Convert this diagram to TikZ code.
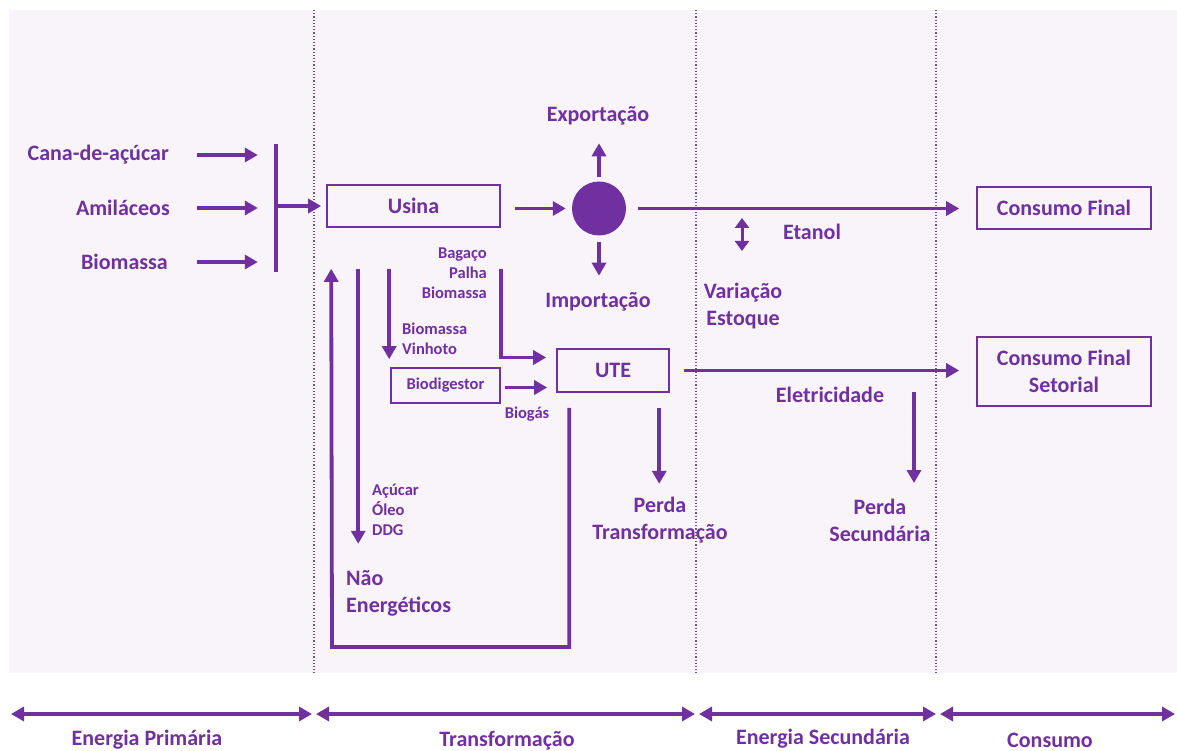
\documentclass[tikz,border=0pt]{standalone}
\usepackage{fontspec}
\setmainfont{Carlito}
\usetikzlibrary{arrows.meta}
\definecolor{pur}{HTML}{7030A0}
\definecolor{panel}{HTML}{F8F4F9}
\definecolor{sepc}{HTML}{6E5585}
\begin{document}
\begin{tikzpicture}[x=1pt,y=-1pt,
  lbl/.style={text=pur,font=\fontsize{22}{27}\selectfont\bfseries,inner sep=0pt},
  sml/.style={text=pur,font=\fontsize{16.5}{20}\selectfont\bfseries,inner sep=0pt},
  box/.style={draw=pur,line width=1.6pt,text=pur,inner sep=0pt,align=center},
  flow/.style={draw=pur,line width=3.8pt,-{Triangle[length=13pt,width=14pt]}},
  span/.style={draw=pur,line width=3.8pt,{Triangle[length=13pt,width=14pt]}-{Triangle[length=13pt,width=14pt]}},
  stock/.style={draw=pur,line width=3pt,{Triangle[length=10pt,width=14pt]}-{Triangle[length=10pt,width=14pt]}},
  sep/.style={draw=sepc,dotted,line width=1.2pt}]
\useasboundingbox (0,0) rectangle (1177,751);
\fill[panel] (9,10) rectangle (1177,673);

% stage separators
\foreach \sx in {314,696,936}
  \draw[sep] (\sx,10) -- (\sx,673);

% primary sources
\node[lbl,anchor=east] (cana) at (169,155) {Cana-de-açúcar};
\node[lbl,anchor=east] (amil) at (170,208) {Amiláceos};
\node[lbl,anchor=east] (biom) at (168,262) {Biomassa};
\node[fill=pur,minimum width=4pt,minimum height=128pt,inner sep=0pt] (bar) at (276,208) {};
\draw[flow] ([xshift=28pt]cana.east) -- ([xshift=-16pt]cana.east -| bar.west);
\draw[flow] ([xshift=27pt]amil.east |- bar.center) -- ([xshift=-16pt]bar.west);
\draw[flow] ([xshift=29pt]biom.east) -- ([xshift=-16pt]biom.east -| bar.west);

% plant and distribution hub
\node[box,lbl,minimum width=173pt,minimum height=42pt] (usina) at (413.5,206) {Usina};
\draw[flow] (bar.east |- usina.west) -- ([xshift=-5pt]usina.west);
\node[circle,fill=pur,minimum size=54pt,inner sep=0pt] (hub) at (599,208.5) {};
\draw[flow] ([xshift=14pt]usina.east |- hub.west) -- ([xshift=-6pt]hub.west);
\node[lbl] (expo) at (598,116) {Exportação};
\node[lbl] (impo) at (598,302) {Importação};
\draw[flow] ([yshift=4pt]hub.north) -- ([yshift=38pt]hub.north);
\draw[flow] ([yshift=-6pt]hub.south) -- ([yshift=-40pt]hub.south);

% final consumption
\node[box,lbl,minimum width=174pt,minimum height=42pt] (cf) at (1064,208) {Consumo Final};
\node[box,lbl,minimum width=174pt,minimum height=69pt] (cfs) at (1064,371.5) {Consumo Final\\Setorial};
\draw[flow] ([xshift=12pt]hub.east) -- ([xshift=-17pt]cf.west |- hub.east);
\coordinate (stk) at (742,234.5);
\draw[stock] ([yshift=16.5pt]stk) -- ([yshift=-16.5pt]stk);
\node[lbl] (etanol) at (812,232) {Etanol};
\node[lbl,align=center] (varest) at (743,306.5) {Variação\\Estoque};

% power plant
\node[box,lbl,minimum width=112pt,minimum height=43pt] (ute) at (613,370.5) {UTE};
\node[box,sml,minimum width=109pt,minimum height=35pt] (biod) at (445.5,385.5) {Biodigestor};
\draw[flow] ([xshift=14pt]ute.east) -- ([xshift=-17pt]cfs.west |- ute.east);
\node[lbl] (eletr) at (830,395) {Eletricidade};

\node[sml,align=right,anchor=east] (bagaco) at (487,273) {Bagaço\\Palha\\Biomassa};
\draw[flow] ([yshift=-41pt]usina.south east) |- ([xshift=-10pt,yshift=13pt]ute.west);
\node[sml,align=left,anchor=west] (vinhoto) at (402,339) {Biomassa\\Vinhoto};
\draw[flow] ([xshift=63pt,yshift=-41pt]usina.south west) -- ([xshift=-1pt,yshift=8pt]biod.north west);
\draw[flow] ([xshift=4pt]biod.east |- 0,387.5) -- ([xshift=-9pt,yshift=-17pt]ute.west);
\node[sml] (biogas) at (527,414) {Biogás};

% losses
\draw[flow] ([xshift=103pt,yshift=-15pt]ute.south west) -- ([xshift=103pt,yshift=-91pt]ute.south west);
\node[lbl,align=center] (perdat) at (660,520.5) {Perda\\Transformação};
\coordinate (eloss) at (914,392);
\draw[flow] (eloss) -- ([yshift=-91pt]eloss);
\node[lbl,align=center] (perdas) at (880,520.5) {Perda\\Secundária};

% non-energy products
\draw[flow] ([xshift=32pt,yshift=-41pt]usina.south west) -- ([xshift=32pt,yshift=-316pt]usina.south west);
\node[sml,align=left,anchor=west] (acucar) at (372,510) {Açúcar\\Óleo\\DDG};
\node[lbl,align=left,anchor=west] (naoen) at (346,593) {Não\\Energéticos};
\coordinate (loopcorner) at (332,647);
\draw[flow] ([xshift=13pt,yshift=-15pt]ute.south west) |- (loopcorner) -- ([xshift=5pt,yshift=-41pt]usina.south west);

% stage spans
\coordinate (s0) at (10,714);
\coordinate (s1) at (314,714);
\coordinate (s2) at (697,714);
\coordinate (s3) at (938,714);
\coordinate (s4) at (1176,714);
\draw[span] ([xshift=1pt]s0) -- ([xshift=-2pt]s1);
\draw[span] ([xshift=2pt]s1) -- ([xshift=-2pt]s2);
\draw[span] ([xshift=2pt]s2) -- ([xshift=-2pt]s3);
\draw[span] ([xshift=2pt]s3) -- ([xshift=-1pt]s4);
\node[lbl] (ep) at (147,740) {Energia Primária};
\node[lbl] (tr) at (507,741) {Transformação};
\node[lbl] (es) at (823,739) {Energia Secundária};
\node[lbl] (co) at (1050,740) {Consumo};
\end{tikzpicture}
\end{document}
